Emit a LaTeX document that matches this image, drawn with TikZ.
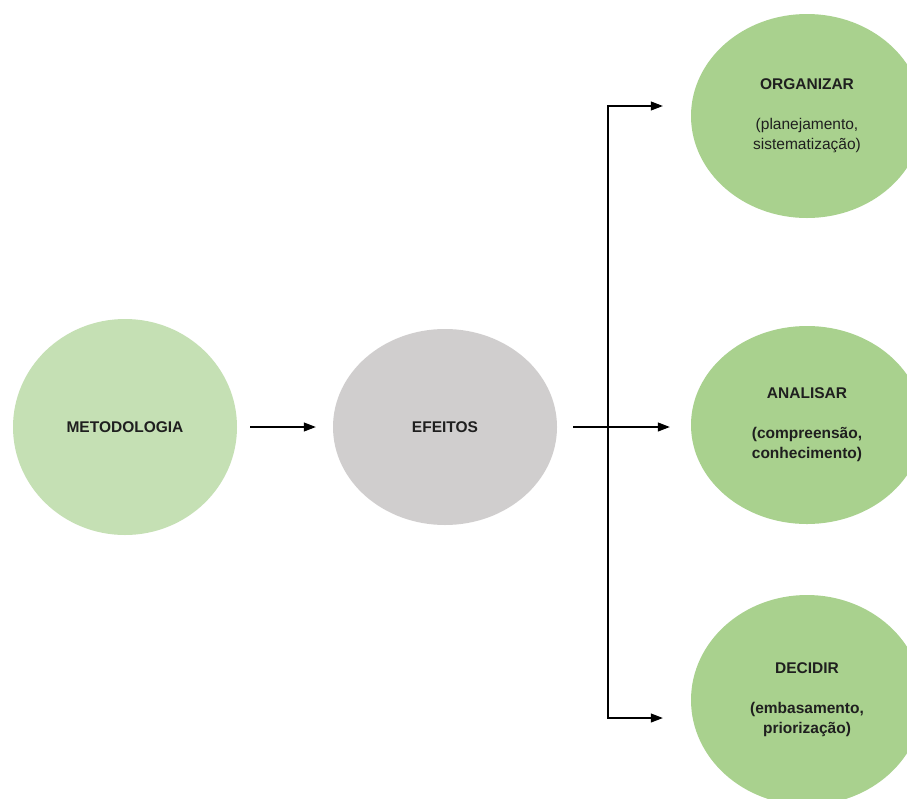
\documentclass[tikz,border=0pt]{standalone}
\usepackage{fontspec}
\setmainfont{Liberation Sans}
\usetikzlibrary{shapes.geometric,arrows.meta}
\definecolor{verdeclaro}{HTML}{C5E0B4}
\definecolor{verde}{HTML}{A9D18E}
\definecolor{cinza}{HTML}{D0CECE}
\tikzset{
  bola/.style={ellipse,inner sep=0pt,align=center,text=black!88,font=\fontsize{15.5}{20}\selectfont},
  etapa/.style={bola,fill=verde,minimum width=232pt,minimum height=204pt},
  seta/.style={-{Triangle[length=12pt,width=9pt]},line width=1.1pt},
}
\begin{document}
\begin{tikzpicture}[x=1pt,y=-1pt]
  \clip (0,0) rectangle (907,798);
  \fill[white] (0,0) rectangle (907,798);
  \node[bola,fill=verdeclaro,minimum width=224pt,minimum height=216pt] (met) at (125,427) {\bfseries METODOLOGIA};
  \node[bola,fill=cinza,minimum width=224pt,minimum height=196pt] (efe) at (445,427) {\bfseries EFEITOS};
  \node[etapa] (org) at (807,116) {\bfseries ORGANIZAR\\[20pt](planejamento,\\sistematização)};
  \node[etapa,minimum height=198pt] (ana) at (807,425) {\bfseries ANALISAR\\[20pt]\bfseries(compreensão,\\\bfseries conhecimento)};
  \node[etapa,minimum height=210pt] (dec) at (807,700) {\bfseries DECIDIR\\[20pt]\bfseries(embasamento,\\\bfseries priorização)};
  \draw[seta,shorten <=13pt,shorten >=17pt] (met) -- (efe);
  \draw[seta,shorten <=16pt,shorten >=21pt] (efe) -- (efe -| ana.west);
  \coordinate (topo) at (608,106);
  \coordinate (base) at (608,718);
  \draw[line width=1.1pt,line cap=rect] (topo) -- (base);
  \draw[seta,shorten >=28pt] (topo) -- (topo -| org.west);
  \draw[seta,shorten >=28pt] (base) -- (base -| dec.west);
\end{tikzpicture}
\end{document}
